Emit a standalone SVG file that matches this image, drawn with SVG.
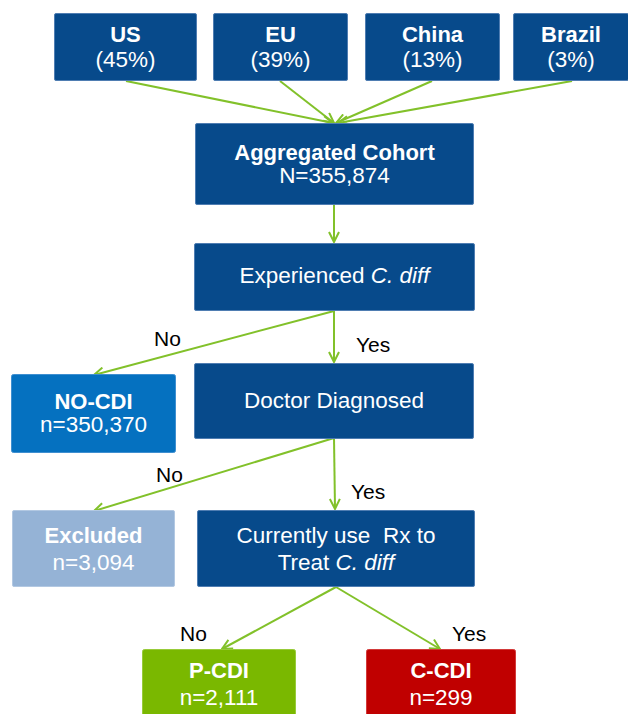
<svg xmlns="http://www.w3.org/2000/svg" width="628" height="714" viewBox="0 0 628 714">
<style>
.bx{stroke-width:1}
.dk{fill:#074A8B;stroke:#4F7DB2}
.t{font-family:"Liberation Sans",Arial,sans-serif;fill:#fff;text-anchor:middle;font-size:22.5px}
.b{font-weight:bold;font-size:22px}
.pre{white-space:pre}
.lb{font-family:"Liberation Sans",Arial,sans-serif;fill:#000;font-size:21px}
.c{fill:none;stroke:#82C12A;stroke-width:2;marker-end:url(#ah)}
</style>
<defs>
<marker id="ah" viewBox="0 0 12 12" refX="11" refY="6" markerWidth="12" markerHeight="12" markerUnits="userSpaceOnUse" orient="auto">
<path d="M1,1 L11,6 L1,11" fill="none" stroke="#82C12A" stroke-width="2"/>
</marker>
</defs>
<rect width="628" height="714" fill="#fff"/>
<g id="connectors">
<line class="c" x1="126" y1="81" x2="333" y2="123"/>
<line class="c" x1="280" y1="81" x2="334" y2="123"/>
<line class="c" x1="432" y1="81" x2="336" y2="123"/>
<line class="c" x1="572" y1="81" x2="338" y2="123"/>
<line class="c" x1="334" y1="205" x2="334" y2="242"/>
<line class="c" x1="334" y1="311" x2="334" y2="362"/>
<line class="c" x1="334" y1="311" x2="94" y2="375"/>
<line class="c" x1="334" y1="438" x2="335" y2="509"/>
<line class="c" x1="334" y1="438" x2="94" y2="511"/>
<line class="c" x1="336" y1="587" x2="222" y2="649"/>
<line class="c" x1="336" y1="587" x2="440" y2="649"/>
<text class="lb" x="154" y="346">No</text>
<text class="lb" x="356" y="352">Yes</text>
<text class="lb" x="156" y="482">No</text>
<text class="lb" x="351" y="499">Yes</text>
<text class="lb" x="180" y="641">No</text>
<text class="lb" x="452" y="641">Yes</text>
</g>
<g id="us"><rect class="bx dk" x="54.5" y="13.5" width="142" height="67" rx="1.5"/>
<text class="t b" x="125.5" y="42">US</text><text class="t" x="125.5" y="67">(45%)</text></g>
<g id="eu"><rect class="bx dk" x="213.5" y="13.5" width="134" height="67" rx="1.5"/>
<text class="t b" x="280.5" y="42">EU</text><text class="t" x="280.5" y="67">(39%)</text></g>
<g id="china"><rect class="bx dk" x="365.5" y="13.5" width="134" height="67" rx="1.5"/>
<text class="t b" x="432.5" y="42">China</text><text class="t" x="432.5" y="67">(13%)</text></g>
<g id="brazil"><rect class="bx dk" x="513.5" y="13.5" width="115" height="67" rx="1.5"/>
<text class="t b" x="571" y="42">Brazil</text><text class="t" x="571" y="67">(3%)</text></g>
<g id="aggregated"><rect class="bx dk" x="195.5" y="123.5" width="278" height="81" rx="1.5"/>
<text class="t b" x="334.5" y="160">Aggregated Cohort</text><text class="t" x="334.5" y="183">N=355,874</text></g>
<g id="experienced"><rect class="bx dk" x="194.5" y="243.5" width="280" height="67" rx="1.5"/>
<text class="t" x="334.5" y="283">Experienced <tspan font-style="italic">C. diff</tspan></text></g>
<g id="nocdi"><rect class="bx" x="11.5" y="374.5" width="164" height="78" rx="2" fill="#0571C0" stroke="#3F8FD0"/>
<text class="t b" x="93.5" y="409">NO-CDI</text><text class="t" x="93.5" y="432">n=350,370</text></g>
<g id="doctor"><rect class="bx dk" x="194.5" y="363.5" width="279" height="75" rx="1.5"/>
<text class="t" x="334" y="408">Doctor Diagnosed</text></g>
<g id="excluded"><rect class="bx" x="12.5" y="510.5" width="162" height="76" rx="1.5" fill="#95B3D6" stroke="#B2C8E2"/>
<text class="t b" x="93.5" y="543">Excluded</text><text class="t" x="93.5" y="570">n=3,094</text></g>
<g id="currently"><rect class="bx dk" x="197.5" y="510.5" width="277" height="76" rx="1.5"/>
<text class="t pre" x="336" y="543" xml:space="preserve">Currently use  Rx to</text><text class="t" x="336" y="570">Treat <tspan font-style="italic">C. diff</tspan></text></g>
<g id="pcdi"><rect class="bx" x="142.5" y="649.5" width="153" height="70" rx="2" fill="#7AB800" stroke="#98CB3A"/>
<text class="t b" x="219" y="678">P-CDI</text><text class="t" x="219" y="705">n=2,111</text></g>
<g id="ccdi"><rect class="bx" x="366.5" y="649.5" width="149" height="70" rx="2" fill="#C00000" stroke="#D23A3A"/>
<text class="t b" x="441" y="678">C-CDI</text><text class="t" x="441" y="705">n=299</text></g>
</svg>
